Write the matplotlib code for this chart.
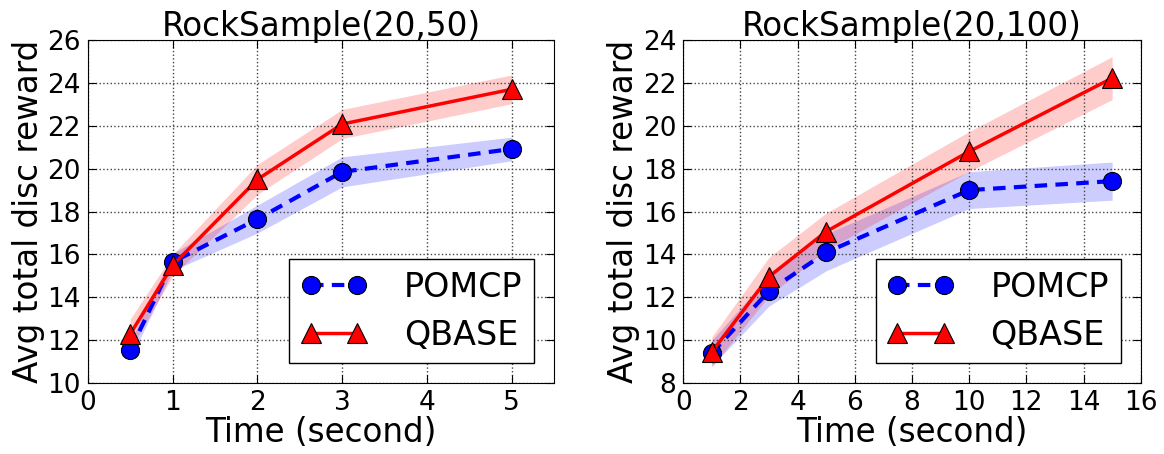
import matplotlib
matplotlib.use("Agg")
import matplotlib.pyplot as plt
import numpy as np

# RockSample(20,50)
t50 = [0.5, 1, 2, 3, 5]
pomcp50 = [11.55, 15.65, 17.65, 19.85, 20.92]
pomcp50_err = [0.4, 0.4, 0.65, 0.7, 0.55]
qbase50 = [12.3, 15.5, 19.5, 22.08, 23.7]
qbase50_err = [0.7, 0.5, 0.7, 0.68, 0.67]

# RockSample(20,100)
t100 = [1, 3, 5, 10, 15]
pomcp100 = [9.4, 12.3, 14.1, 17.0, 17.42]
pomcp100_err = [0.6, 0.7, 0.86, 0.86, 0.89]
qbase100 = [9.46, 12.97, 15.07, 18.8, 22.22]
qbase100_err = [0.7, 0.9, 0.86, 0.93, 1.0]

plt.rcParams['font.family'] = 'DejaVu Sans'

fig = plt.figure(figsize=(11.64, 4.54), dpi=100)
ax1 = fig.add_axes([0.0756, 0.156, 0.4004, 0.756])
ax2 = fig.add_axes([0.587, 0.156, 0.393, 0.756])


def draw(ax, t, p, pe, q, qe, title, xlim, ylim, xticks, yticks):
    t = np.array(t)
    p, pe, q, qe = map(np.array, (p, pe, q, qe))
    ax.fill_between(t, p - pe, p + pe, color='blue', alpha=0.2, lw=0)
    ax.fill_between(t, q - qe, q + qe, color='red', alpha=0.2, lw=0)
    ax.plot(t, p, 'b--', marker='o', ms=13, mec='k', mew=0.8, lw=3,
            dashes=(3, 2), label='POMCP')
    ax.plot(t, q, 'r-', marker='^', ms=14, mec='k', mew=0.8, lw=2.5, label='QBASE')
    ax.set_xlim(*xlim)
    ax.set_ylim(*ylim)
    ax.set_xticks(xticks)
    ax.set_yticks(yticks)
    ax.grid(True, linestyle=':', color='#444444', lw=1)
    ax.tick_params(direction='in', top=True, right=True, labelsize=19, length=6, pad=5)
    ax.set_title(title, fontsize=23.5, pad=3)
    ax.set_xlabel('Time (second)', fontsize=23.5, labelpad=0)
    ax.set_ylabel('Avg total disc reward', fontsize=23.5, labelpad=2)
    leg = ax.legend(loc='lower right', fontsize=24, numpoints=2, fancybox=False,
                    framealpha=1, edgecolor='k', handlelength=2.0,
                    borderpad=0.35, labelspacing=0.45, handletextpad=1.1,
                    borderaxespad=0.6)
    leg.get_frame().set_linewidth(1)


draw(ax1, t50, pomcp50, pomcp50_err, qbase50, qbase50_err,
     'RockSample(20,50)', (0, 5.5), (10, 26), range(0, 6), range(10, 27, 2))
draw(ax2, t100, pomcp100, pomcp100_err, qbase100, qbase100_err,
     'RockSample(20,100)', (0, 16), (8, 24), range(0, 17, 2), range(8, 25, 2))

fig.savefig('out.png', dpi=100)
